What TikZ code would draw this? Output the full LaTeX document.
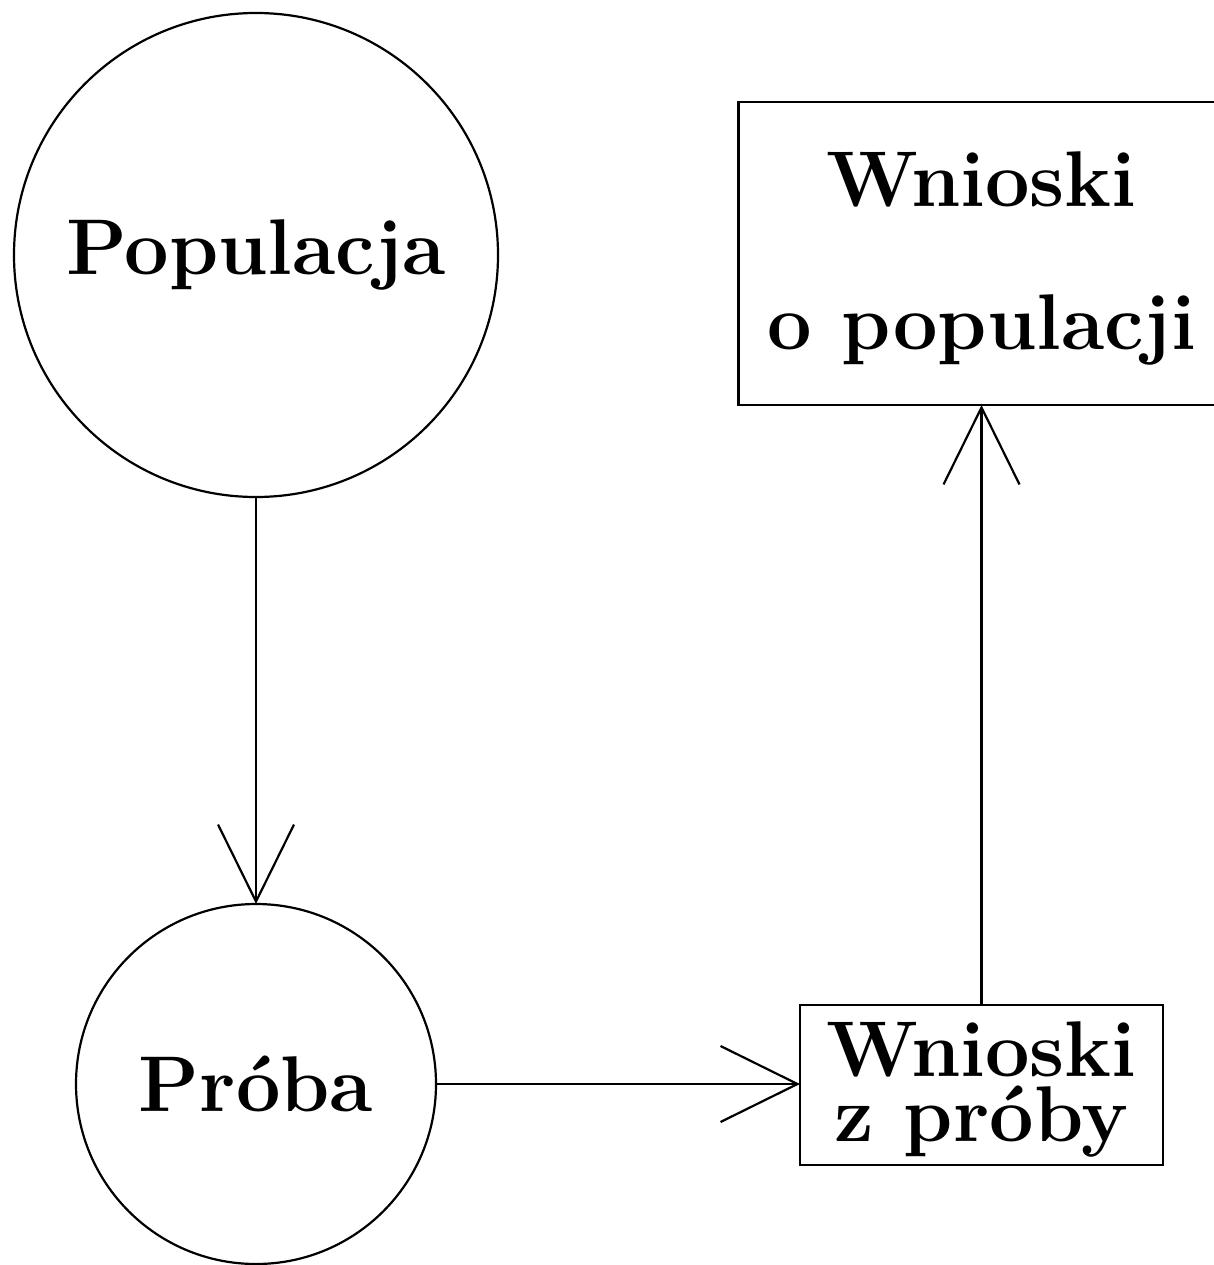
\documentclass[tikz,border=0pt]{standalone}
\usepackage{fontspec}
\usetikzlibrary{arrows.meta}
\begin{document}
\begin{tikzpicture}[x=1pt,y=-1pt,
  every node/.style={inner sep=0pt, outer sep=0pt, line width=2.2pt},
  bigfont/.style={font=\fontsize{79}{#1}\selectfont\bfseries},
  ring/.style={draw, circle, bigfont=80},
  textbox/.style={draw, rectangle, align=center},
  conn/.style={line width=2.2pt, -{Straight Barb[length=77pt,width=76pt,line width=2.2pt]}}]
\useasboundingbox (0,0) rectangle (1214,1265);
\node[ring, minimum size=484pt] (pop) at (256,255) {Populacja};
\node[ring, minimum size=360pt] (proba) at (256,1084) {Próba};
\node[textbox, minimum width=486pt, minimum height=303pt, bigfont=143] (wpop) at (981.5,253.5) {\rule{0pt}{65pt}Wnioski\\o populacji};
\node[textbox, minimum width=363pt, minimum height=160pt, bigfont=65] (wpr) at (981.5,1085) {\rule{0pt}{64pt}Wnioski\\z próby};
\draw[conn] (pop.south) -- (proba.north);
\draw[conn] (proba.east) -- (proba.east -| wpr.west);
\draw[conn] (wpr.north) -- (wpop.south);
\end{tikzpicture}
\end{document}
